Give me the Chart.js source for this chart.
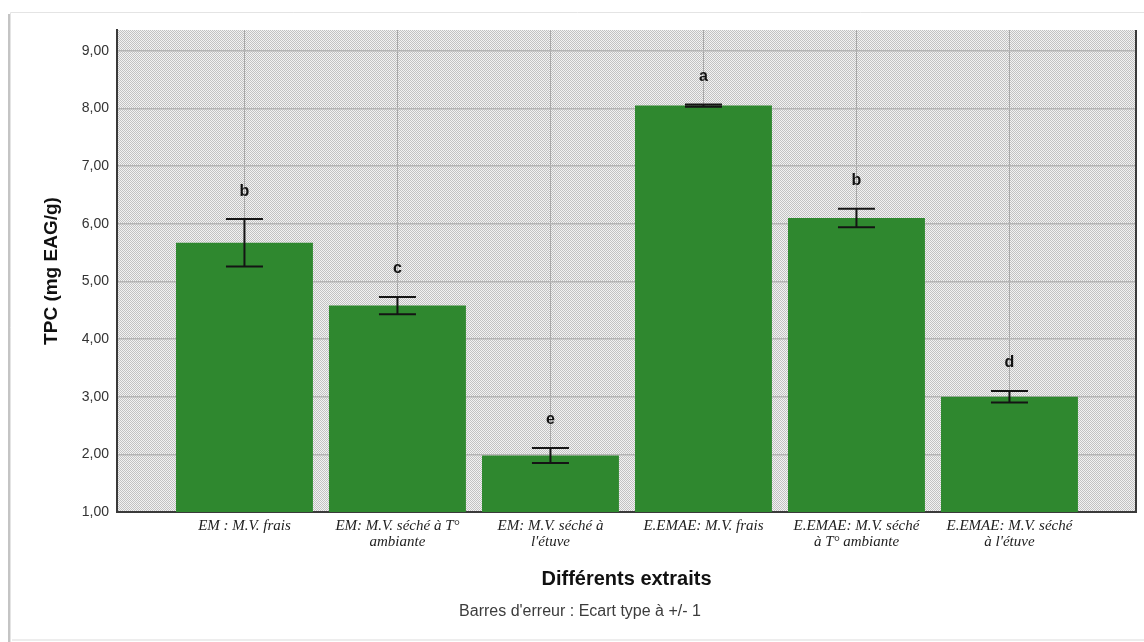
<!DOCTYPE html>
<html>
<head>
<meta charset="utf-8">
<script src="https://cdn.jsdelivr.net/npm/chart.js@4.4.1/dist/chart.umd.min.js"></script>
<style>
  html, body { margin: 0; padding: 0; background: #ffffff; }
  #wrap { width: 1144px; height: 642px; position: relative; }
</style>
</head>
<body>
<div id="wrap"><canvas id="c" width="1144" height="642"></canvas></div>
<script>
// Extraits (catégories de l'axe X)
const categories = [
  ['EM : M.V. frais'],
  ['EM: M.V. séché à T°', 'ambiante'],
  ['EM: M.V. séché à', "l'étuve"],
  ['E.EMAE: M.V. frais'],
  ['E.EMAE: M.V. séché', 'à T° ambiante'],
  ['E.EMAE: M.V. séché', "à l'étuve"]
];
// TPC moyen (mg EAG/g)
const tpcMeans = [5.67, 4.58, 1.98, 8.05, 6.10, 3.00];
// Écart type
const tpcSd = [0.41, 0.15, 0.13, 0.02, 0.16, 0.10];
// Groupes homogènes
const groupLetters = ['b', 'c', 'e', 'a', 'b', 'd'];
// Graduations de l'axe Y
const yTicks = [1, 2, 3, 4, 5, 6, 7, 8, 9];

const fmt = v => v.toFixed(2).replace('.', ',');

// Dotted grey fill for the plotting area
function makePattern() {
  const p = document.createElement('canvas');
  p.width = 2; p.height = 2;
  const g = p.getContext('2d');
  g.fillStyle = '#f2f2f2'; g.fillRect(0, 0, 2, 2);
  g.fillStyle = '#c2c2c2';
  g.fillRect(0, 0, 1, 1);
  g.fillRect(1, 1, 1, 1);
  return g.createPattern(p, 'repeat');
}

const framePlugin = {
  id: 'frame',
  beforeDraw(chart) {
    const ctx = chart.ctx;
    const a = chart.chartArea;
    ctx.save();
    ctx.fillStyle = '#ffffff';
    ctx.fillRect(0, 0, chart.width, chart.height);
    // outer panel border with soft shadow
    ctx.strokeStyle = '#e4e4e4';
    ctx.lineWidth = 1;
    ctx.beginPath();
    ctx.moveTo(10.5, 642); ctx.lineTo(10.5, 12.5); ctx.lineTo(1144, 12.5);
    ctx.stroke();
    ctx.strokeStyle = '#c4c4c4';
    ctx.lineWidth = 2;
    ctx.beginPath();
    ctx.moveTo(9, 642); ctx.lineTo(9, 14);
    ctx.stroke();
    ctx.strokeStyle = '#ededed';
    ctx.lineWidth = 2;
    ctx.beginPath();
    ctx.moveTo(12, 640); ctx.lineTo(1144, 640);
    ctx.stroke();
    // plot background
    ctx.fillStyle = makePattern();
    ctx.fillRect(a.left, a.top, a.right - a.left, a.bottom - a.top);
    ctx.restore();
  },
  afterDraw(chart) {
    const ctx = chart.ctx;
    const a = chart.chartArea;
    ctx.save();
    ctx.strokeStyle = '#3a3a3a';
    ctx.lineWidth = 2;
    ctx.beginPath();
    ctx.moveTo(a.right, a.top); ctx.lineTo(a.right, a.bottom);
    ctx.stroke();
    ctx.restore();
  }
};

// Error bars (± 1 SD) and group letters
const errorBarPlugin = {
  id: 'errorBars',
  afterDatasetsDraw(chart) {
    const ctx = chart.ctx;
    const xs = chart.scales.x, ys = chart.scales.y;
    const cap = 37;
    ctx.save();
    ctx.strokeStyle = '#141414';
    ctx.lineWidth = 2;
    tpcMeans.forEach((m, i) => {
      const x = xs.getPixelForValue(i);
      const yHi = ys.getPixelForValue(m + tpcSd[i]);
      const yLo = ys.getPixelForValue(m - tpcSd[i]);
      ctx.beginPath();
      ctx.moveTo(x, yHi); ctx.lineTo(x, yLo);
      ctx.moveTo(x - cap / 2, yHi); ctx.lineTo(x + cap / 2, yHi);
      ctx.moveTo(x - cap / 2, yLo); ctx.lineTo(x + cap / 2, yLo);
      ctx.stroke();
      ctx.fillStyle = '#111111';
      ctx.font = 'bold 16px "Liberation Sans", Arial, sans-serif';
      ctx.textAlign = 'center';
      ctx.textBaseline = 'middle';
      ctx.fillText(groupLetters[i], x, yHi - 28);
    });
    ctx.restore();
  }
};

new Chart(document.getElementById('c'), {
  type: 'bar',
  data: {
    datasets: [{
      label: 'TPC',
      data: tpcMeans.map((v, i) => ({ x: i, y: v })),
      backgroundColor: '#2f882f',
      borderWidth: 0,
      categoryPercentage: 1,
      barPercentage: 0.895
    }]
  },
  options: {
    responsive: false,
    animation: false,
    layout: { padding: { left: 24, top: 30, right: 8, bottom: 0 } },
    plugins: {
      legend: { display: false },
      tooltip: { enabled: false },
      title: {
        display: true,
        position: 'bottom',
        text: "Barres d'erreur : Ecart type à +/- 1",
        color: '#3c3c3c',
        font: { family: '"Liberation Sans", Arial, sans-serif', size: 16, weight: 'normal', lineHeight: 1.2 },
        padding: { top: 4, bottom: 20.4 }
      }
    },
    scales: {
      x: {
        type: 'linear',
        offset: false,
        min: -0.833,
        max: 5.827,
        afterBuildTicks: s => { s.ticks = categories.map((_, i) => ({ value: i })); },
        afterFit: s => { s.height = 86.4; },
        grid: { display: true, offset: false, color: '#a8a8a8', lineWidth: 1, drawTicks: false },
        border: { display: true, color: '#3a3a3a', width: 2 },
        ticks: {
          autoSkip: false,
          maxRotation: 0,
          minRotation: 0,
          padding: 6,
          color: '#222222',
          font: { family: '"Liberation Serif", "Times New Roman", serif', size: 15, style: 'italic', lineHeight: 1.07 },
          callback: v => categories[v]
        },
        title: {
          display: true,
          text: 'Différents extraits',
          color: '#111111',
          font: { family: '"Liberation Sans", Arial, sans-serif', size: 20, weight: 'bold', lineHeight: 1.2 },
          padding: { top: 0, bottom: 7.4 }
        }
      },
      y: {
        min: 1,
        max: 9.36,
        afterBuildTicks: s => { s.ticks = yTicks.map(v => ({ value: v })); },
        afterFit: s => { s.width = 93; },
        grid: { color: '#b4b4b4', lineWidth: 1.5, drawTicks: false },
        border: { display: true, color: '#3a3a3a', width: 2 },
        ticks: {
          padding: 8,
          color: '#333333',
          font: { family: '"Liberation Sans", Arial, sans-serif', size: 14 },
          callback: v => fmt(v)
        },
        title: {
          display: true,
          text: 'TPC (mg EAG/g)',
          color: '#111111',
          font: { family: '"Liberation Sans", Arial, sans-serif', size: 19, weight: 'bold', lineHeight: 1.2 },
          padding: { top: 16.6, bottom: 0 }
        }
      }
    }
  },
  plugins: [framePlugin, errorBarPlugin]
});
</script>
</body>
</html>
